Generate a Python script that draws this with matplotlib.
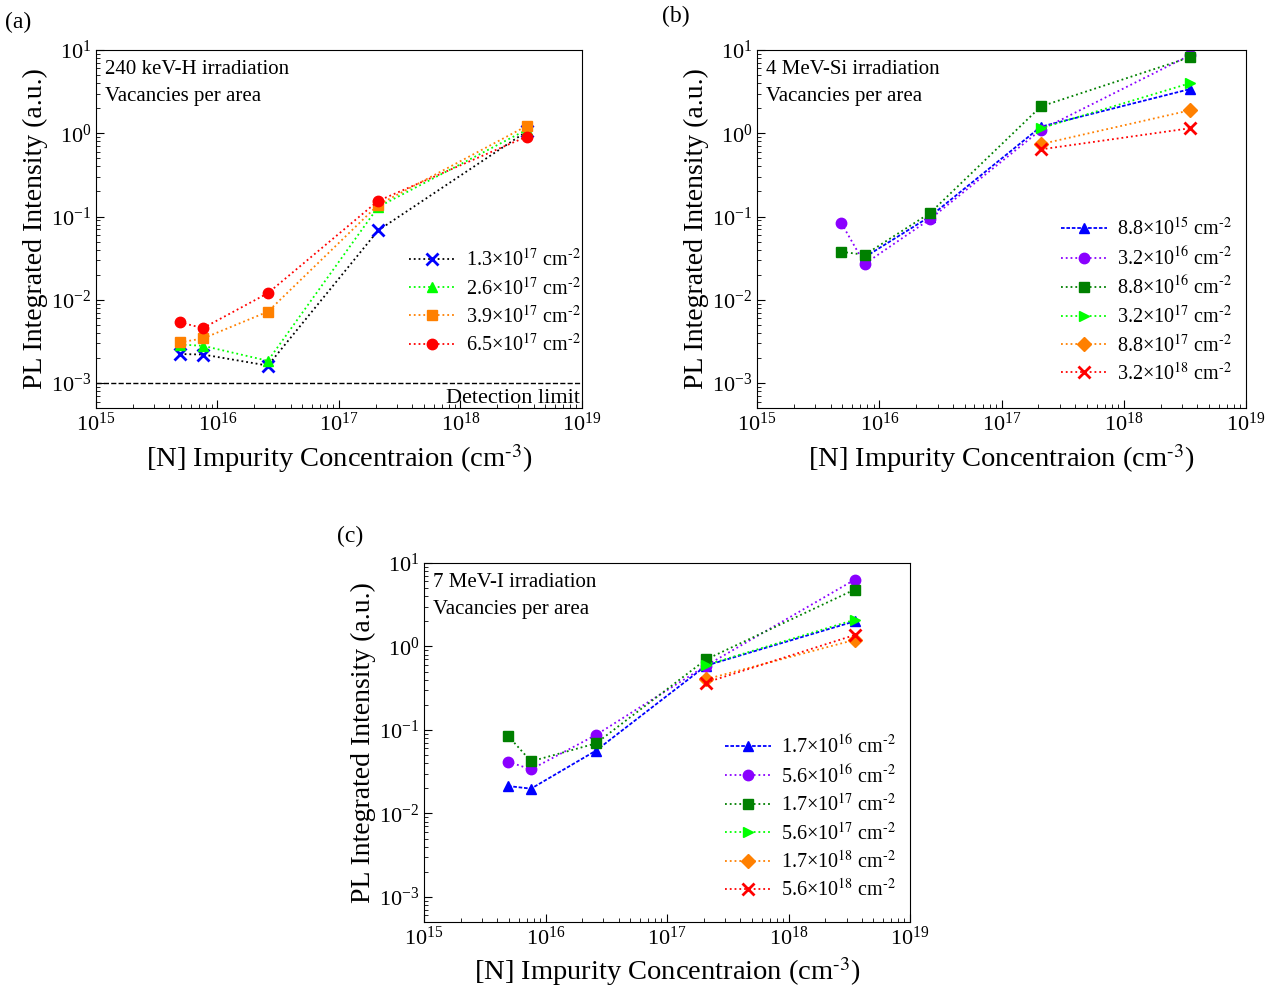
import matplotlib
matplotlib.use("Agg")
import matplotlib.pyplot as plt

plt.rcParams["font.family"] = ["Liberation Serif", "DejaVu Serif"]
plt.rcParams["mathtext.fontset"] = "stix"

# impurity concentration (cm^-3), shared by all panels
conc = [4.9e15, 7.6e15, 2.6e16, 2.1e17, 3.5e18]

# (a) 240 keV-H
h_labels = ["1.3", "2.6", "3.9", "6.5"]
h_exps = ["17", "17", "17", "17"]
h_vals = [
    [2.23e-3, 2.2e-3, 1.62e-3, 0.068, 1.05],
    [2.9e-3, 2.8e-3, 1.85e-3, 0.13, 1.1],
    [3.08e-3, 3.43e-3, 7.2e-3, 0.138, 1.22],
    [5.35e-3, 4.57e-3, 0.012, 0.154, 0.91],
]

# (b) 4 MeV-Si
si_labels = ["8.8", "3.2", "8.8", "3.2", "8.8", "3.2"]
si_exps = ["15", "16", "16", "17", "17", "18"]
si_x = [conc[1:], conc, conc, conc[3:], conc[3:], conc[3:]]
si_vals = [
    [0.0325, 0.1, 1.2, 3.4],
    [0.083, 0.027, 0.093, 1.1, 8.7],
    [0.0377, 0.0347, 0.11, 2.1, 8.2],
    [1.15, 4.0],
    [0.74, 1.89],
    [0.64, 1.15],
]

# (c) 7 MeV-I
i_labels = ["1.7", "5.6", "1.7", "5.6", "1.7", "5.6"]
i_exps = ["16", "16", "17", "17", "18", "18"]
i_x = [conc, conc, conc, conc[3:], conc[3:], conc[3:]]
i_vals = [
    [0.0213, 0.0198, 0.0565, 0.59, 2.0],
    [0.0417, 0.0337, 0.087, 0.59, 6.3],
    [0.0855, 0.042, 0.069, 0.70, 4.8],
    [0.60, 2.09],
    [0.405, 1.2],
    [0.37, 1.37],
]

BLUE = "#0000ff"
LIME = "#00ff00"
ORANGE = "#ff8000"
RED = "#ff0000"
PURPLE = "#8a00ff"
DGREEN = "#008000"

h_styles = [
    dict(color="black", mfc=BLUE, mec=BLUE, marker="x", mew=2, ms=9),
    dict(color=LIME, marker="^"),
    dict(color=ORANGE, marker="s"),
    dict(color=RED, marker="o"),
]
six_styles = [
    dict(color=BLUE, marker="^", ls=(0, (2, 1))),
    dict(color=PURPLE, marker="o"),
    dict(color=DGREEN, marker="s"),
    dict(color=LIME, marker=">"),
    dict(color=ORANGE, marker="D", ms=7),
    dict(color=RED, marker="x", mew=2, ms=9),
]


def setup(ax, title):
    ax.set_xscale("log")
    ax.set_yscale("log")
    ax.set_xlim(1e15, 1e19)
    ax.set_ylim(10 ** -3.3, 10)
    ax.tick_params(which="both", direction="in", top=False, right=False, labelsize=16)
    ax.tick_params(which="major", length=6)
    ax.tick_params(which="minor", length=3)
    ax.set_xlabel("[N] Impurity Concentraion (cm$^{\\text{-}3}$)", fontsize=20.5, labelpad=4)
    ax.set_ylabel("PL Integrated Intensity (a.u.)", fontsize=20, labelpad=2)
    ax.text(0.018, 0.972, title + "\nVacancies per area", transform=ax.transAxes,
            ha="left", va="top", fontsize=15, linespacing=1.6)


def plot_series(ax, xs, vals, styles, labels, exps):
    for x, v, st, lab, e in zip(xs, vals, styles, labels, exps):
        kw = dict(ls=":", lw=1.3, ms=7.5)
        kw.update(st)
        ax.plot(x, v, label=lab + "×10$^{" + e + "}$ cm$^{\\text{-}2}$", **kw)


def add_legend(ax, anchor):
    ax.legend(loc="lower right", bbox_to_anchor=anchor, frameon=False,
              fontsize=14.5, handlelength=2.3, labelspacing=0.32, handletextpad=0.5)


fig = plt.figure(figsize=(12.76, 9.92), dpi=100)
ax_a = fig.add_axes([0.0752, 0.5887, 0.3809, 0.3609])
ax_b = fig.add_axes([0.5933, 0.5887, 0.3832, 0.3609])
ax_c = fig.add_axes([0.3323, 0.0706, 0.3809, 0.3619])

setup(ax_a, "240 keV-H irradiation")
plot_series(ax_a, [conc] * 4, h_vals, h_styles, h_labels, h_exps)
ax_a.axhline(1e-3, color="black", ls="--", lw=1)
ax_a.text(0.995, 0.0, "Detection limit", transform=ax_a.transAxes,
          ha="right", va="bottom", fontsize=16)
add_legend(ax_a, (1.035, 0.095))

setup(ax_b, "4 MeV-Si irradiation")
plot_series(ax_b, si_x, si_vals, six_styles, si_labels, si_exps)
add_legend(ax_b, (1.01, 0.015))

setup(ax_c, "7 MeV-I irradiation")
plot_series(ax_c, i_x, i_vals, six_styles, i_labels, i_exps)
add_legend(ax_c, (1.01, 0.008))

fig.text(0.004, 0.977, "(a)", fontsize=17, ha="left", va="center")
fig.text(0.519, 0.983, "(b)", fontsize=17, ha="left", va="center")
fig.text(0.264, 0.459, "(c)", fontsize=17, ha="left", va="center")

fig.savefig("out.png", dpi=100)
